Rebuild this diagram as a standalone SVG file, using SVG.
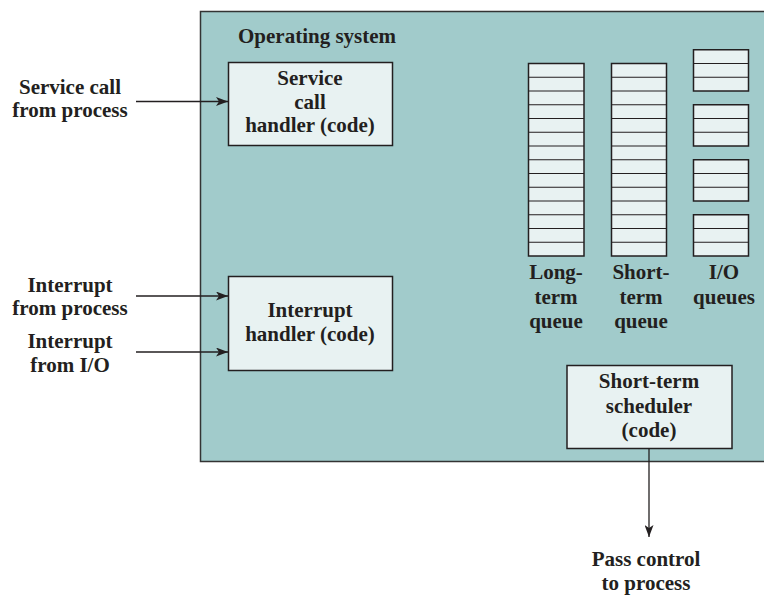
<svg xmlns="http://www.w3.org/2000/svg" width="764" height="595" viewBox="0 0 764 595">
<defs>
<style>
text{font-family:"Liberation Serif","Times New Roman",serif;font-weight:bold;font-size:21px;fill:#231f20}
.c{text-anchor:middle}
.os{fill:#a1cbcb;stroke:#333;stroke-width:1.5}
.box{fill:#e8f2f2;stroke:#231f20;stroke-width:1.5}
.q{fill:#e8f2f2;stroke:#231f20;stroke-width:1.5}
.ql{fill:none;stroke:#231f20;stroke-width:1.2}
.conn{fill:none;stroke:#231f20;stroke-width:1.3}
</style>
<marker id="ah" viewBox="0 0 12 9" refX="12" refY="4.5" markerWidth="12" markerHeight="9" markerUnits="userSpaceOnUse" orient="auto">
<path d="M0,0 L12,4.5 L0,9 L3,4.5 z" fill="#231f20"/>
</marker>
</defs>
<g id="os">
<rect class="os" x="200.5" y="11.5" width="580" height="450"/>
<text x="238" y="43">Operating system</text>
</g>
<g id="service-call-handler">
<rect class="box" x="228.5" y="62.5" width="164" height="83"/>
<text class="c" x="310" y="85">Service</text>
<text class="c" x="310" y="108.5">call</text>
<text class="c" x="310" y="132">handler (code)</text>
</g>
<g id="interrupt-handler">
<rect class="box" x="228.5" y="276.5" width="164" height="94"/>
<text class="c" x="310" y="317">Interrupt</text>
<text class="c" x="310" y="341">handler (code)</text>
</g>
<g id="long-term-queue">
<rect class="q" x="528.5" y="63.5" width="55.5" height="192.5"/>
<path class="ql" d="M528.5,77.25H584M528.5,91H584M528.5,104.75H584M528.5,118.5H584M528.5,132.25H584M528.5,146H584M528.5,159.75H584M528.5,173.5H584M528.5,187.25H584M528.5,201H584M528.5,214.75H584M528.5,228.5H584M528.5,242.25H584"/>
<text class="c" x="556" y="279">Long-</text>
<text class="c" x="556" y="303.5">term</text>
<text class="c" x="556" y="328">queue</text>
</g>
<g id="short-term-queue">
<rect class="q" x="611.5" y="63.5" width="55" height="192.5"/>
<path class="ql" d="M611.5,77.25H666.5M611.5,91H666.5M611.5,104.75H666.5M611.5,118.5H666.5M611.5,132.25H666.5M611.5,146H666.5M611.5,159.75H666.5M611.5,173.5H666.5M611.5,187.25H666.5M611.5,201H666.5M611.5,214.75H666.5M611.5,228.5H666.5M611.5,242.25H666.5"/>
<text class="c" x="641" y="279">Short-</text>
<text class="c" x="641" y="303.5">term</text>
<text class="c" x="641" y="328">queue</text>
</g>
<g id="io-queues">
<rect class="q" x="693.5" y="49.75" width="55" height="41.25"/>
<path class="ql" d="M693.5,63.5H748.5M693.5,77.25H748.5"/>
<rect class="q" x="693.5" y="104.75" width="55" height="41.25"/>
<path class="ql" d="M693.5,118.5H748.5M693.5,132.25H748.5"/>
<rect class="q" x="693.5" y="159.75" width="55" height="41.25"/>
<path class="ql" d="M693.5,173.5H748.5M693.5,187.25H748.5"/>
<rect class="q" x="693.5" y="214.75" width="55" height="41.25"/>
<path class="ql" d="M693.5,228.5H748.5M693.5,242.25H748.5"/>
<text class="c" x="724" y="279">I/O</text>
<text class="c" x="724" y="303.5">queues</text>
</g>
<g id="short-term-scheduler">
<rect class="box" x="567" y="365.5" width="165" height="83"/>
<text class="c" x="649" y="388">Short-term</text>
<text class="c" x="649" y="413">scheduler</text>
<text class="c" x="649" y="437">(code)</text>
</g>
<g id="label-service-call">
<text class="c" x="70" y="94">Service call</text>
<text class="c" x="70" y="117">from process</text>
</g>
<g id="label-interrupt-process">
<text class="c" x="70" y="292">Interrupt</text>
<text class="c" x="70" y="315">from process</text>
</g>
<g id="label-interrupt-io">
<text class="c" x="70" y="348">Interrupt</text>
<text class="c" x="70" y="372">from I/O</text>
</g>
<g id="label-pass-control">
<text class="c" x="646" y="566">Pass control</text>
<text class="c" x="646" y="590">to process</text>
</g>
<g id="connectors">
<path class="conn" d="M136,101.5H228" marker-end="url(#ah)"/>
<path class="conn" d="M136,296H228" marker-end="url(#ah)"/>
<path class="conn" d="M136,352H228" marker-end="url(#ah)"/>
<path class="conn" d="M649,448.5V537" marker-end="url(#ah)"/>
</g>
</svg>
